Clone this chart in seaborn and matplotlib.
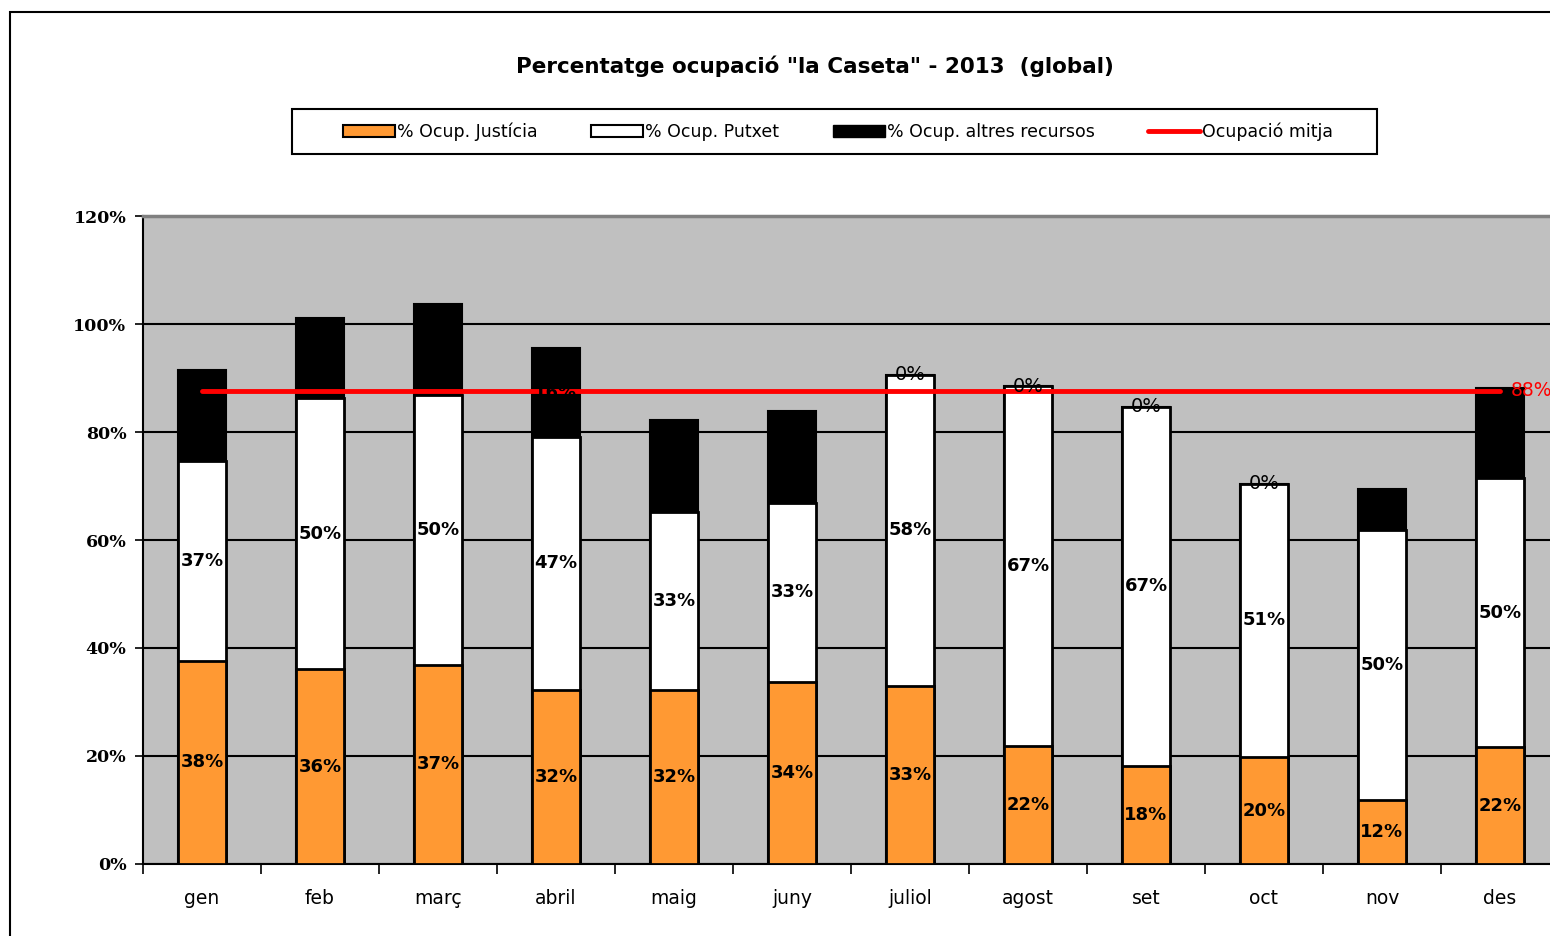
import matplotlib
matplotlib.use('Agg')
import matplotlib.pyplot as plt
from matplotlib.patches import Patch, Rectangle
from matplotlib.lines import Line2D
import seaborn as sns
import pandas as pd

# data (percent)
months = ['gen', 'feb', 'març', 'abril', 'maig', 'juny',
          'juliol', 'agost', 'set', 'oct', 'nov', 'des']
justicia = [37.6, 36.1, 36.9, 32.2, 32.2, 33.7, 33.0, 21.9, 18.1, 19.8, 11.9, 21.6]
putxet = [37.0, 50.2, 50.0, 46.9, 33.0, 33.2, 57.6, 66.6, 66.6, 50.6, 50.0, 49.8]
altres = [16.9, 14.8, 16.8, 16.4, 17.0, 17.0, 0.0, 0.0, 0.0, 0.0, 7.5, 16.7]
mitja = 87.6

labels = ['% Ocup. Justícia', '% Ocup. Putxet', '% Ocup. altres recursos', 'Ocupació mitja']
title = 'Percentatge ocupació "la Caseta" - 2013  (global)'

df = pd.DataFrame({'mes': months, 'justicia': justicia,
                   'putxet': putxet, 'altres': altres})
df['cum_putxet'] = df['justicia'] + df['putxet']
df['total'] = df['cum_putxet'] + df['altres']

sns.set_style('white')
plt.rcParams['font.family'] = ['DejaVu Sans']
plt.rcParams['text.color'] = 'black'
plt.rcParams['xtick.color'] = 'black'
plt.rcParams['ytick.color'] = 'black'

W, H = 1550, 936
fig = plt.figure(figsize=(W / 100, H / 100), dpi=100)
ax = fig.add_axes([143 / W, 72 / H, 1416 / W, 648 / H])
ax.set_facecolor('#C0C0C0')

orange = '#FF9933'
bw = 0.41
# stacked bars: draw totals back to front
sns.barplot(data=df, x='mes', y='total', color='black', width=bw,
            edgecolor='black', linewidth=1.5, saturation=1, ax=ax, zorder=2)
sns.barplot(data=df, x='mes', y='cum_putxet', color='white', width=bw,
            edgecolor='black', linewidth=2, saturation=1, ax=ax, zorder=3)
sns.barplot(data=df, x='mes', y='justicia', color=orange, width=bw,
            edgecolor='black', linewidth=2, saturation=1, ax=ax, zorder=4)

# average line
sns.lineplot(x=list(range(len(months))), y=[mitja] * len(months), color='red',
             linewidth=3.5, ax=ax, zorder=5)
ax.annotate(f'{mitja:.0f}%', xy=(len(months) - 1, mitja), xytext=(8, 0),
            textcoords='offset points', color='red', fontsize=13.5,
            va='center', ha='left', annotation_clip=False, zorder=7)

# segment labels
for i, row in df.iterrows():
    ax.text(i, row['justicia'] / 2, f"{row['justicia']:.0f}%", ha='center',
            va='center', fontsize=13, fontweight='bold', zorder=6)
    ax.text(i, row['justicia'] + row['putxet'] / 2, f"{row['putxet']:.0f}%",
            ha='center', va='center', fontsize=13, fontweight='bold', zorder=6)
    if row['altres'] > 0:
        ax.text(i, row['cum_putxet'] + row['altres'] / 2, f"{row['altres']:.0f}%",
                ha='center', va='center', fontsize=13, fontweight='bold',
                color='black', zorder=6)
    else:
        ax.text(i, row['total'], '0%', ha='center', va='center',
                fontsize=14, zorder=6)

# axes styling
ax.set_ylim(0, 120)
ax.set_xlim(-0.5, len(months) - 0.5)
ax.set_yticks(range(0, 121, 20))
ax.set_yticklabels([f'{v}%' for v in range(0, 121, 20)], fontsize=12.5,
                   fontweight='bold', family='DejaVu Serif')
ax.yaxis.grid(True, color='black', linewidth=1.5, zorder=1)
ax.set_axisbelow(True)
ax.set_xlabel('')
ax.set_ylabel('')
ax.tick_params(axis='y', length=6, width=1.2, direction='out', left=True, pad=6)
ax.tick_params(axis='x', which='major', length=0, pad=18, labelsize=13.5)
ax.set_xticks([i - 0.5 for i in range(len(months) + 1)], minor=True)
ax.tick_params(axis='x', which='minor', length=7, width=1.2, direction='out', bottom=True)
for s in ['left', 'bottom']:
    ax.spines[s].set_color('black')
    ax.spines[s].set_linewidth(1.5)
ax.spines['top'].set_color('#808080')
ax.spines['top'].set_linewidth(2.5)
ax.spines['right'].set_visible(False)

# title and legend
fig.text(815 / W, 1 - 66 / H, title, ha='center', va='center',
         fontsize=15.5, fontweight='bold')
handles = [Patch(facecolor=orange, edgecolor='black', linewidth=1.5),
           Patch(facecolor='white', edgecolor='black', linewidth=1.5),
           Patch(facecolor='black', edgecolor='black'),
           Line2D([0], [0], color='red', linewidth=3.5)]
fig.legend(handles, labels, loc='center', ncol=4,
           bbox_to_anchor=(838 / W, 1 - 131.5 / H), fontsize=12.5,
           frameon=False, handlelength=3.0, handletextpad=0.1,
           columnspacing=3.1, borderaxespad=0)
fig.patches.append(Rectangle((292 / W, 1 - 154 / H), 1085 / W, 45 / H,
                             transform=fig.transFigure, facecolor='white',
                             edgecolor='black', linewidth=1.5, zorder=0))

# outer chart frame
fig.patches.append(Rectangle((10 / W, -0.1), 2, 1 - 12 / H + 0.1,
                             transform=fig.transFigure, fill=False,
                             edgecolor='black', linewidth=1.5))

fig.savefig('out.png', dpi=100)
